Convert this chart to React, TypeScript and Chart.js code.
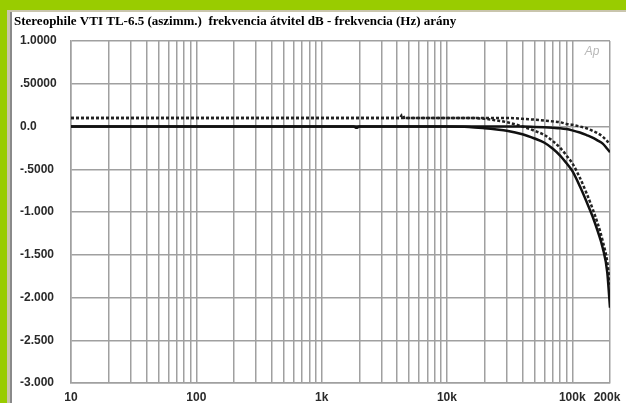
import React, { useEffect, useRef } from 'react';
import { Chart, registerables } from 'chart.js';

Chart.register(...registerables);

const TITLE = 'Stereophile VTI TL-6.5 (aszimm.)  frekvencia átvitel dB - frekvencia (Hz) arány';

const freqs = [10, 100, 1000, 1800, 1900, 2000, 4200, 4400, 4600, 10000, 15000, 20000, 25000, 30000, 40000, 50000, 60000, 70000, 80000, 90000, 100000, 115000, 130000, 145000, 160000, 175000, 190000, 200000];

const steepSolid = [0, 0, 0, 0, -0.015, 0, 0, 0, 0, 0, -0.005, -0.02, -0.035, -0.05, -0.09, -0.14, -0.19, -0.26, -0.34, -0.43, -0.52, -0.7, -0.88, -1.05, -1.23, -1.42, -1.7, -2.12];
const steepDotted = [0.1, 0.1, 0.1, 0.1, 0.1, 0.1, 0.1, 0.14, 0.1, 0.1, 0.1, 0.09, 0.07, 0.05, 0.0, -0.05, -0.1, -0.17, -0.25, -0.34, -0.43, -0.6, -0.78, -0.96, -1.14, -1.34, -1.58, -1.85];
const gentleSolid = [0, 0, 0, 0, 0, 0, 0, 0, 0, 0, 0, 0, 0, 0, 0, -0.005, -0.01, -0.015, -0.02, -0.03, -0.045, -0.07, -0.1, -0.13, -0.165, -0.2, -0.26, -0.3];
const gentleDotted = [0.1, 0.1, 0.1, 0.1, 0.1, 0.1, 0.1, 0.1, 0.1, 0.1, 0.1, 0.1, 0.1, 0.1, 0.09, 0.08, 0.07, 0.06, 0.05, 0.03, 0.02, 0.0, -0.02, -0.05, -0.08, -0.12, -0.17, -0.21];

const yTickValues = [1, 0.5, 0, -0.5, -1, -1.5, -2, -2.5, -3];
const yTickLabels = ['1.0000', '.50000', '0.0', '-.5000', '-1.000', '-1.500', '-2.000', '-2.500', '-3.000'];

const xTickValues = [10, 100, 1000, 10000, 100000, 200000];
const xTickLabels = ['10', '100', '1k', '10k', '100k', '200k'];

const decades = [10, 100, 1000, 10000, 100000];
const multipliers = [1, 2, 3, 4, 5, 6, 7, 8, 9];

const GRID = '#a0a0a0';
const LABEL_FONT = 'bold 12px "Liberation Sans", Arial, sans-serif';
const xLabelNudge: Record<string, number> = { '200k': -3 };

const toPoints = (vals: number[]) => freqs.map((f, i) => ({ x: f, y: vals[i] }));

const gridFreqs: number[] = [];
decades.forEach((d) => multipliers.forEach((m) => { if (d * m <= 200000) gridFreqs.push(d * m); }));
if (!gridFreqs.includes(200000)) gridFreqs.push(200000);

const overlay = {
  id: 'overlay',
  afterDraw(chart: any) {
    const { ctx, chartArea } = chart;
    const xs = chart.scales.x;
    ctx.save();
    ctx.fillStyle = '#000';
    ctx.font = 'bold 13px "Liberation Serif", "Times New Roman", serif';
    ctx.textAlign = 'left';
    ctx.textBaseline = 'alphabetic';
    ctx.fillText(TITLE, 14, 25);

    ctx.fillStyle = '#2a2a2a';
    ctx.font = LABEL_FONT;
    ctx.textAlign = 'center';
    ctx.textBaseline = 'top';
    xTickValues.forEach((v, i) => {
      const lbl = xTickLabels[i];
      ctx.fillText(lbl, xs.getPixelForValue(v) + (xLabelNudge[lbl] || 0), chartArea.bottom + 9);
    });

    ctx.fillStyle = '#b8b8b8';
    ctx.font = 'italic 12px "Liberation Sans", Arial, sans-serif';
    ctx.textAlign = 'center';
    ctx.textBaseline = 'middle';
    ctx.fillText('Ap', chartArea.right - 18, chartArea.top + 11);
    ctx.restore();
  },
};

export default function App() {
  const ref = useRef<HTMLCanvasElement | null>(null);

  useEffect(() => {
    document.body.style.margin = '0';
    if (!ref.current) return;
    const common = { pointRadius: 0, cubicInterpolationMode: 'monotone' as const, fill: false };
    const chart = new Chart(ref.current, {
      type: 'line',
      data: {
        datasets: [
          { ...common, data: toPoints(gentleSolid), borderColor: '#111', borderWidth: 2.5 },
          { ...common, data: toPoints(steepSolid), borderColor: '#111', borderWidth: 2.5 },
          { ...common, data: toPoints(gentleDotted), borderColor: '#222', borderWidth: 2.5, borderDash: [3, 2] },
          { ...common, data: toPoints(steepDotted), borderColor: '#222', borderWidth: 2.5, borderDash: [3, 2] },
        ],
      },
      options: {
        responsive: false,
        animation: false,
        layout: { padding: { left: 20, top: 41, right: 16, bottom: 0 } },
        plugins: { legend: { display: false }, tooltip: { enabled: false }, title: { display: false } },
        scales: {
          x: {
            type: 'logarithmic',
            min: 10,
            max: 200000,
            afterBuildTicks: (s: any) => { s.ticks = gridFreqs.map((v) => ({ value: v })); },
            afterFit: (s: any) => { s.height = 20; },
            ticks: { display: false },
            grid: { color: GRID, lineWidth: 1.5, drawTicks: false },
            border: { display: true, color: GRID, width: 1.5 },
          },
          y: {
            min: -3,
            max: 1,
            afterBuildTicks: (s: any) => { s.ticks = yTickValues.map((v) => ({ value: v })); },
            afterFit: (s: any) => { s.width = 51; },
            ticks: {
              crossAlign: 'far',
              color: '#2a2a2a',
              font: { family: '"Liberation Sans", Arial, sans-serif', size: 12, weight: 'bold' },
              callback: (v: any) => {
                const i = yTickValues.indexOf(Number(v));
                return i >= 0 ? yTickLabels[i] : '';
              },
            },
            grid: { color: GRID, lineWidth: 1.5, drawTicks: false },
            border: { display: true, color: GRID, width: 1.5 },
          },
        },
      },
      plugins: [overlay],
    });
    return () => chart.destroy();
  }, []);

  return (
    <div style={{ position: 'relative', width: 626, height: 403, background: '#fff', overflow: 'hidden' }}>
      <div style={{ position: 'absolute', left: 0, top: 0, width: 626, height: 10, background: '#99cc00' }} />
      <div style={{ position: 'absolute', left: 0, top: 0, width: 7, height: 403, background: '#99cc00' }} />
      <div style={{ position: 'absolute', left: 7, top: 10, width: 619, height: 2, background: '#c9c5ad' }} />
      <div style={{ position: 'absolute', left: 7, top: 10, width: 3, height: 393, background: '#c9c5ad' }} />
      <div style={{ position: 'absolute', left: 10, top: 12, width: 2, height: 391, background: '#8a8a8a' }} />
      <canvas ref={ref} width={626} height={403} style={{ position: 'absolute', left: 0, top: 0 }} />
    </div>
  );
}
